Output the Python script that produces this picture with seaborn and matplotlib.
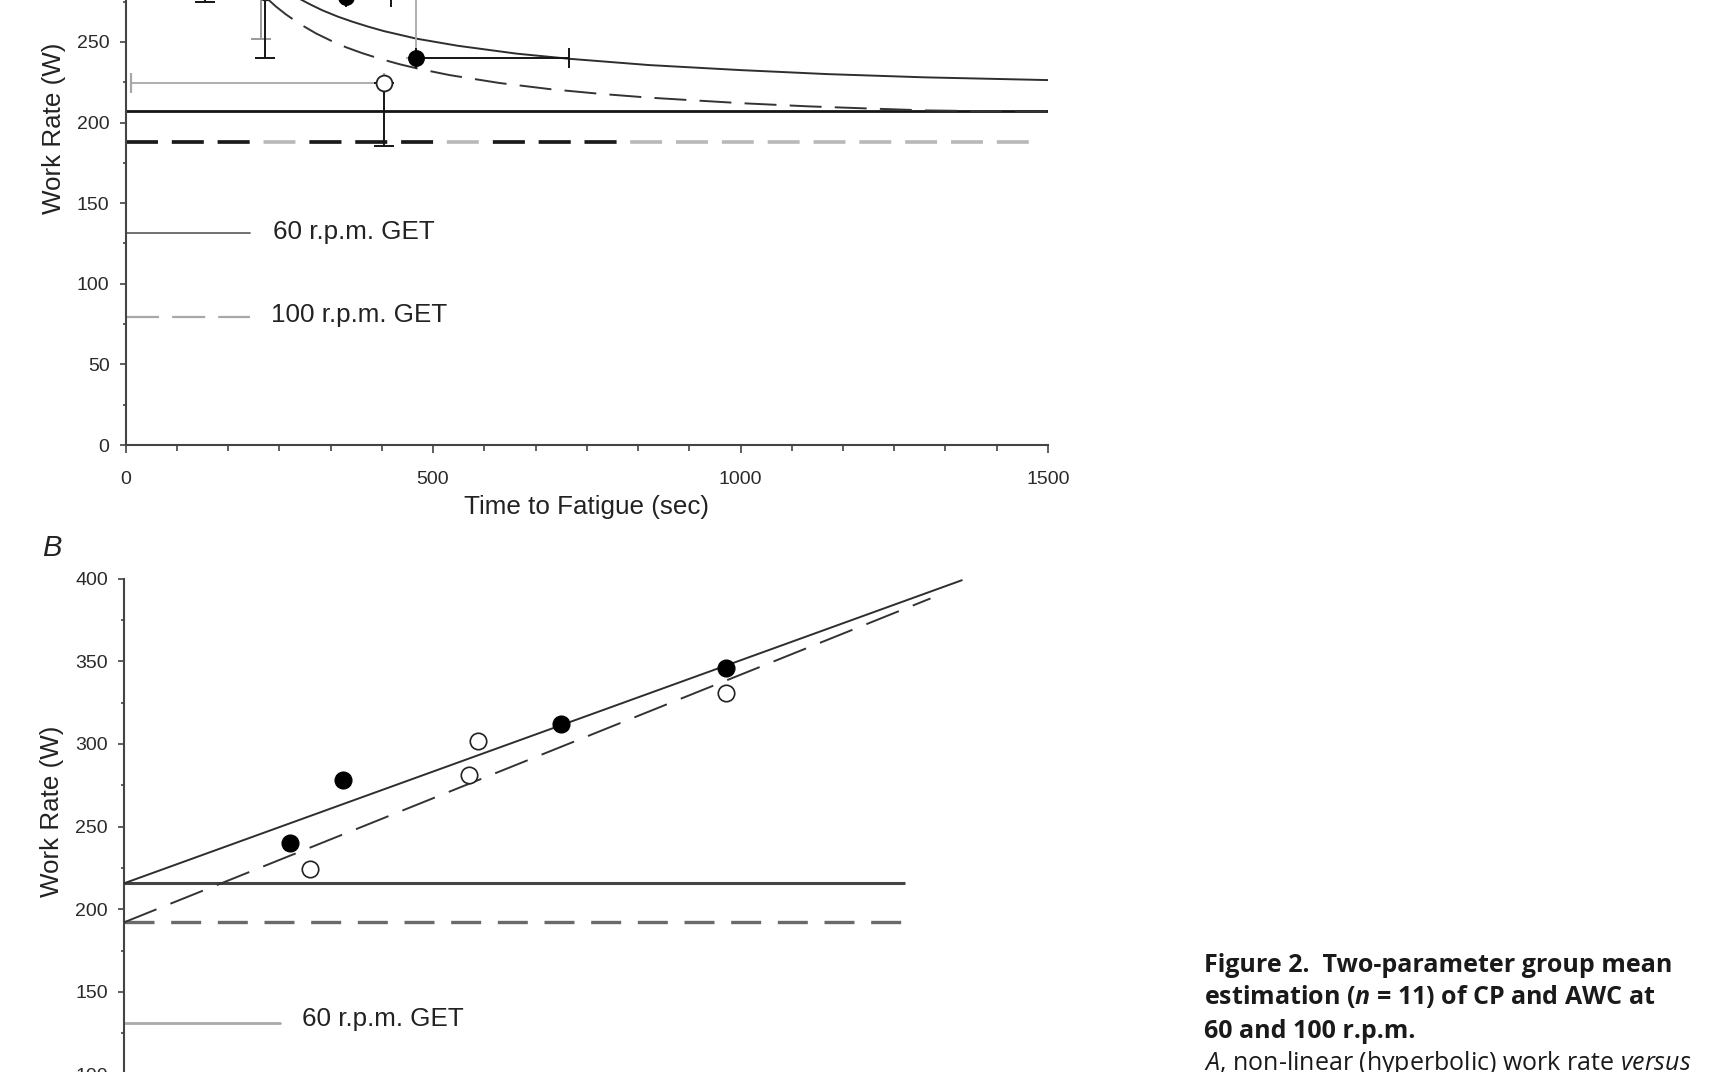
import numpy as np
import pandas as pd
import matplotlib
matplotlib.use("Agg")
import matplotlib.pyplot as plt
import seaborn as sns
from matplotlib.ticker import MultipleLocator

# ---------------- data ----------------
# group means: time to fatigue (s) and work rate (W)
filled_t = [472, 358, 179, 130]          # 60 r.p.m.
filled_w = [240, 278, 312, 346]
open_t = [421, 227, 221, 130]            # 100 r.p.m.
open_w = [224.4, 281, 302, 331]

# SD bars visible in panel A (0 = not drawn)
filled_t_sd = [249, 74, 0, 0]            # to the right
filled_w_sd = [45, 0, 0, 0]              # upwards
open_t_sd = [412, 0, 0, 0]               # to the left
open_w_sd = [38.7, 41, 50, 56]           # downwards

# hyperbolic fits (panel A)
hyp60_t = [260, 283, 300, 320, 345, 369, 395, 420, 473, 540, 636, 722, 852, 1000, 1142, 1300, 1500]
hyp60_w = [282.1, 276.7, 273.3, 269.6, 265.7, 262.5, 259.4, 256.7, 252.0, 247.6, 242.7, 239.5,
           235.6, 232.5, 230.0, 228.0, 226.3]
hyp100_t = [215, 229, 245, 261, 283, 310, 337, 359, 385, 413, 446, 478, 527, 608, 690, 771,
            852, 1000, 1111, 1200, 1300, 1500]
hyp100_w = [282.8, 277.3, 271.8, 267.0, 261.2, 255.2, 250.2, 246.6, 243.0, 239.6, 236.1, 233.2,
            229.4, 224.5, 220.7, 217.8, 215.4, 212.0, 210.0, 208.8, 207.5, 206.5]

# horizontal reference lines, panel A
cpA_60 = 207.2
cpA_100 = 188.2
cpA_t_end = 1500
cpA_100_black_end = 800
cpA_100_grey_end = 1476
get60 = 131.3
get100 = 79.6
get_t_end = 203
get_labels = ["60 r.p.m. GET", "100 r.p.m. GET"]
get_label_t = [240, 236]
yticksA = [0, 50, 100, 150, 200, 250]

# linear fits, panel B (x = 1/time)
linB60_x = [0, 0.0107]
linB60_w = [215.7, 399]
linB100_x = [0, 0.0103]
linB100_w = [192.1, 388]
cpB_60 = 215.7
cpB_100 = 192.1
cpB_x_end = 0.00997
getB_x_end = 0.00199
getB_label_x = 0.00227
yticksB = [100, 150, 200, 250, 300, 350, 400]

caption = ["Figure 2.  Two-parameter group mean",
           "estimation ($\\mathit{n}$ = 11) of CP and AWC at",
           "60 and 100 r.p.m."]
caption_last = "$\\mathsf{A}$, non-linear (hyperbolic) work rate $\\mathsf{versus}$"

# ---------------- style ----------------
sns.set_theme(style="ticks")
plt.rcParams['font.family'] = ['Liberation Sans', 'DejaVu Sans']
plt.rcParams['lines.scale_dashes'] = False
plt.rcParams['mathtext.fontset'] = 'custom'
plt.rcParams['mathtext.it'] = 'Open Sans:italic:bold'
plt.rcParams['mathtext.sf'] = 'Open Sans:italic'
plt.rcParams['mathtext.rm'] = 'Open Sans'

W, H = 1736, 1072
fig = plt.figure(figsize=(W / 100, H / 100), dpi=100)
fig.patch.set_facecolor('white')

axA = fig.add_axes([125.5 / W, (H - 445) / H, 922.5 / W, 645 / H])
axB = fig.add_axes([124 / W, (H - 1240) / H, 939.6 / W, 661.4 / H])

SPINE = '#444444'
LBL = 18.7
for ax in (axA, axB):
    ax.set_facecolor('white')
    for s in ('top', 'right'):
        ax.spines[s].set_visible(False)
    for s in ('left', 'bottom'):
        ax.spines[s].set_color(SPINE)
        ax.spines[s].set_linewidth(1.5)
    ax.yaxis.set_minor_locator(MultipleLocator(25))
    ax.tick_params(axis='both', which='major', direction='out', length=4.5, width=1.2,
                   color=SPINE, labelsize=14, labelcolor='#2a2a2a')
    ax.tick_params(axis='y', which='minor', direction='out', length=2, width=1.2, color=SPINE)
    ax.tick_params(axis='y', which='major', pad=7)
    ax.set_ylim(0, 400)

# ---------------- panel A ----------------
axA.set_xlim(0, 1500)
axA.set_yticks(yticksA)
axA.xaxis.set_major_locator(MultipleLocator(500))
axA.xaxis.set_minor_locator(MultipleLocator(500 / 6))
axA.tick_params(axis='x', which='major', length=5.5, pad=13)
axA.tick_params(axis='x', which='minor', direction='out', length=4.5, width=1.2, color=SPINE)

dash = (0, (23.0, 10.0))
# CP lines
axA.plot([0, cpA_t_end], [cpA_60, cpA_60], color='#151515', lw=2.0, solid_capstyle='butt', zorder=2)
axA.plot([0, cpA_100_grey_end], [cpA_100, cpA_100], color='#b8b8b8', lw=2.6,
         linestyle=dash, dash_capstyle='butt', zorder=2)
axA.plot([0, cpA_100_black_end], [cpA_100, cpA_100], color='#1a1a1a', lw=2.6,
         linestyle=(0, (23.0, 10.0, 23.0, 10.0, 23.0, 43.1)), dash_capstyle='butt', zorder=2.1)

# hyperbolic fits
sns.lineplot(x=hyp60_t, y=hyp60_w, ax=axA, color='#2e2e2e', lw=1.4, sort=False,
             estimator=None, zorder=3)
sns.lineplot(x=hyp100_t, y=hyp100_w, ax=axA, color='#333333', lw=1.4, sort=False,
             estimator=None, linestyle=(0, (23.0, 9.5)), zorder=3)

# GET lines and labels
axA.plot([0, get_t_end], [get60, get60], color='#666666', lw=1.3, zorder=2)
axA.plot([0, get_t_end], [get100, get100], color='#a8a8a8', lw=1.6,
         linestyle=(0, (23.8, 9.4)), dash_capstyle='butt', zorder=2)
for lab, tx, wy in zip(get_labels, get_label_t, [get60, get100]):
    axA.text(tx, wy + 1, lab, fontsize=LBL, color='#222222', va='center', ha='left')

# error bars
CAP = 7.2
for t, w, tsd, wsd in zip(filled_t, filled_w, filled_t_sd, filled_w_sd):
    if tsd > 0:
        axA.errorbar([t], [w], xerr=[[0], [tsd]], fmt='none', ecolor='#151515',
                     elinewidth=1.4, capsize=CAP, capthick=1.4, zorder=4)
    if wsd > 0:
        axA.errorbar([t], [w], yerr=[[0], [wsd]], fmt='none', ecolor='#a8a8a8',
                     elinewidth=1.3, capsize=CAP, capthick=1.3, zorder=3.5)
open_w_colors = ['#151515', '#151515', '#9a9a9a', '#151515']
for t, w, tsd, wsd, c in zip(open_t, open_w, open_t_sd, open_w_sd, open_w_colors):
    if tsd > 0:
        axA.errorbar([t], [w], xerr=[[tsd], [0]], fmt='none', ecolor='#a8a8a8',
                     elinewidth=1.3, capsize=CAP, capthick=1.6, zorder=3.5)
    if wsd > 0:
        axA.errorbar([t], [w], yerr=[[wsd], [0]], fmt='none', ecolor=c,
                     elinewidth=1.4, capsize=CAP, capthick=1.4,
                     zorder=4 if c == '#151515' else 3.6)

# points
sns.scatterplot(x=filled_t, y=filled_w, ax=axA, s=128, color='black',
                edgecolor='black', linewidth=0.8, zorder=6)
sns.scatterplot(x=open_t, y=open_w, ax=axA, s=130, facecolor='white',
                edgecolor='#222222', linewidth=1.3, zorder=6)

axA.set_xlabel("Time to Fatigue (sec)", fontsize=LBL, color='#222222')
axA.xaxis.set_label_coords((587 - 125.5) / 922.5, (1072 - 507 - 627) / 645)
axA.xaxis.label.set(ha='center', va='center')
axA.set_ylabel("Work Rate (W)", fontsize=LBL, color='#222222')
axA.yaxis.set_label_coords((54.5 - 125.5) / 922.5, 0.4909)
axA.yaxis.label.set(ha='center', va='center')

# ---------------- panel B ----------------
axB.set_xlim(0, 0.012)
axB.set_xticks([])
axB.set_yticks(yticksB)

inv_filled = [1.0 / t for t in filled_t]
inv_open = [1.0 / t for t in open_t]

axB.plot([0, cpB_x_end], [cpB_60, cpB_60], color='#444444', lw=2.2, solid_capstyle='butt', zorder=2)
axB.plot([0, cpB_x_end], [cpB_100, cpB_100], color='#6a6a6a', lw=2.4,
         linestyle=(0, (21.6, 12.0)), dash_capstyle='butt', zorder=2)

sns.lineplot(x=linB60_x, y=linB60_w, ax=axB, color='#2e2e2e', lw=1.4, sort=False,
             estimator=None, zorder=3)
sns.lineplot(x=linB100_x, y=linB100_w, ax=axB, color='#333333', lw=1.4, sort=False,
             estimator=None, linestyle=(0, (25.2, 10.8)), zorder=3)

axB.plot([0, getB_x_end], [get60, get60], color='#aaaaaa', lw=2.0, zorder=2)
axB.text(getB_label_x, get60 + 2.2, get_labels[0], fontsize=LBL, color='#222222',
         va='center', ha='left')

sns.scatterplot(x=inv_filled, y=filled_w, ax=axB, s=150, color='black',
                edgecolor='black', linewidth=0.8, zorder=6)
sns.scatterplot(x=inv_open, y=open_w, ax=axB, s=140, facecolor='white',
                edgecolor='#222222', linewidth=1.2, zorder=6)

axB.set_ylabel("Work Rate (W)", fontsize=LBL, color='#222222')
axB.yaxis.set_label_coords((51.5 - 124) / 939.6, 0.6479)
axB.yaxis.label.set(ha='center', va='center')

fig.text(52 / W, 1 - 548 / H, "B", fontsize=21, fontstyle='italic', color='#222222',
         ha='center', va='center')

# ---------------- caption ----------------
cap_x = 1203.5 / W
baselines = [971.5, 1004.5, 1037.5]
for line, yb in zip(caption, baselines):
    fig.text(cap_x, 1 - yb / H, line, fontsize=18, fontweight='bold', color='#1a1a1a',
             family=['Open Sans', 'DejaVu Sans'], ha='left', va='baseline')
fig.text(cap_x, 1 - 1070.5 / H, caption_last, fontsize=18, color='#1a1a1a',
         family=['Open Sans', 'DejaVu Sans'], ha='left', va='baseline')

fig.savefig("out.png", dpi=100, facecolor='white')
